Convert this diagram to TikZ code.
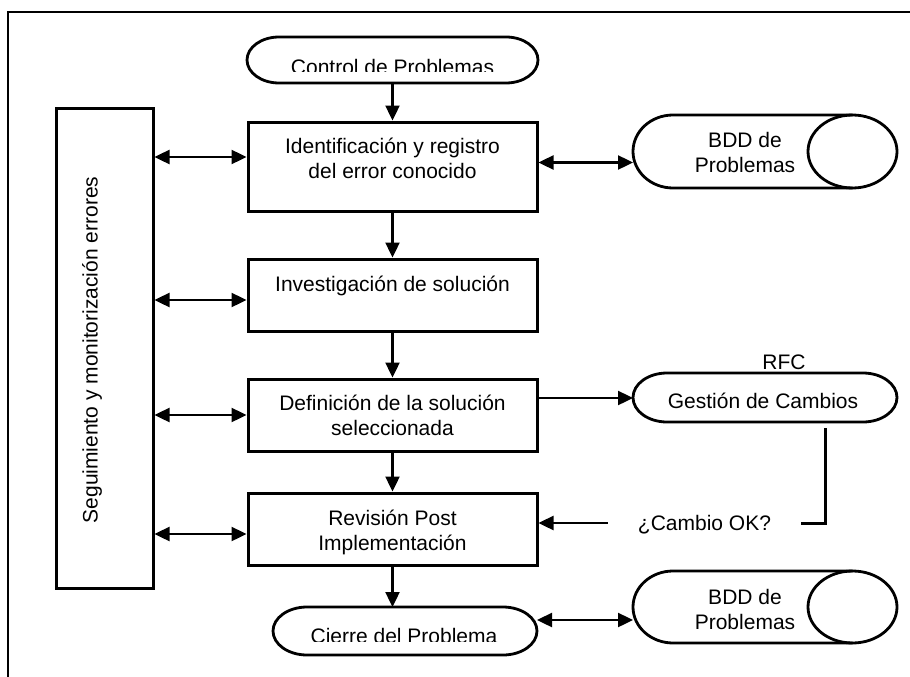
\documentclass[tikz,border=0pt]{standalone}
\usepackage{fontspec}
\setmainfont{Liberation Sans}
\usetikzlibrary{arrows.meta}

% two centred lines whose baseline is the baseline of the first line
\newcommand\twolines[2]{\vtop{\halign{\hfil##\hfil\cr#1\cr#2\cr}}}

% terminal outline with elliptical ends around a placeholder node
\newcommand\stadium[3]{%
  \draw[shapeline] ([xshift=#2]#1.north west) -- ([xshift=-#2]#1.north east)
    arc[start angle=90, end angle=-90, x radius=#2, y radius=#3]
    -- ([xshift=#2]#1.south west)
    arc[start angle=270, end angle=90, x radius=#2, y radius=#3] -- cycle;}

% stored-data outline (horizontal drum) around a placeholder node
\newcommand\drum[2]{%
  \draw[shapeline] ([xshift=-44.5pt]#1.north east) -- ([xshift=40pt]#1.north west)
    arc[start angle=90, end angle=270, x radius=40pt, y radius=#2]
    -- ([xshift=-44.5pt]#1.south east);
  \draw[shapeline] ([xshift=-44.5pt]#1.east) ellipse[x radius=44.5pt, y radius=#2];}

\begin{document}
\begin{tikzpicture}[x=1pt, y=-1pt,
  font=\fontsize{21}{25}\selectfont,
  box/.style={draw, line width=3pt, inner sep=0pt,
    minimum width=289pt, minimum height=72pt},
  slot/.style={inner sep=0pt, outer sep=0pt},
  shapeline/.style={line width=2.8pt},
  txt/.style={inner sep=0pt, anchor=base},
  tip/.tip={Triangle[length=15pt, width=14pt]},
  arr/.style={line width=2.4pt, -tip},
  darr/.style={line width=2.4pt, tip-tip},
  frame/.style={line width=2.4pt}]

\useasboundingbox (0,0) rectangle (910,677);

% outer frame
\draw[frame] (8,677) -- (8,12) -- (910,12);

% main column
\node[slot, minimum width=291pt, minimum height=46pt] (ctl) at (392.5,60) {};
\node[box, minimum height=89pt] (idf) at (392.5,166.5) {};
\node[box] (inv) at (392.5,295) {};
\node[box] (def) at (392.5,415) {};
\node[box] (rev) at (392.5,529) {};
\node[slot, minimum width=264pt, minimum height=48pt] (cie) at (405,631) {};

% side blocks
\node[box, minimum width=97pt, minimum height=480pt] (seg) at (104.5,348) {};
\node[slot, minimum width=264pt, minimum height=73pt] (bdda) at (765,151.5) {};
\node[slot, minimum width=264pt, minimum height=49pt] (gc) at (765,397.5) {};
\node[slot, minimum width=264pt, minimum height=72pt] (bddb) at (765,607) {};

\stadium{ctl}{32pt}{23pt}
\stadium{cie}{34pt}{24pt}
\stadium{gc}{34pt}{24.5pt}
\drum{bdda}{36.5pt}
\drum{bddb}{36pt}

% texts
\begin{scope}
  \clip (ctl.north west) rectangle (ctl.east |- 0,72);
  \node[txt] (ctlt) at (392.5,74.3) {Control de Problemas};
\end{scope}
\begin{scope}
  \clip (cie.north west) rectangle (cie.east |- 0,641);
  \node[txt] (ciet) at (404,643.3) {Cierre del Problema};
\end{scope}
\node[txt] (idft) at (392.5,153) {\twolines{Identificación y registro}{del error conocido}};
\node[txt] (invt) at (392.5,291) {Investigación de solución};
\node[txt] (deft) at (392.5,410) {\twolines{Definición de la solución}{seleccionada}};
\node[txt] (revt) at (392.5,525) {\twolines{Revisión Post}{Implementación}};
\node[txt] (gct) at (763,408) {Gestión de Cambios};
\node[txt] (rfc) at (784,369) {RFC};
\node[txt] (bddat) at (745,147) {\twolines{BDD de}{Problemas}};
\node[txt] (bddbt) at (745,604) {\twolines{BDD de}{Problemas}};
\node[txt, rotate=90] (segt) at (97.5,350) {Seguimiento y monitorización errores};

\node[fill=white, inner xsep=30pt, inner ysep=2pt, text height=15pt, text depth=0pt]
  (ok) at (704.5,523) {¿Cambio OK?};

% flow down the main column
\draw[arr] (ctl) -- (idf);
\draw[arr] (idf) -- (inv);
\draw[arr] (inv) -- (def);
\draw[arr] (def) -- (rev);
\draw[arr] (rev.south) -- (rev.south |- cie.north);

% links to the monitoring block
\foreach \n/\dy in {idf/9.5, inv/-5, def/0, rev/-5} {
  \coordinate (l-\n) at ([yshift=\dy pt]\n.west);
  \draw[darr] (l-\n -| seg.east) -- (l-\n);
}

% links to the right-hand blocks
\coordinate (r-idf) at ([yshift=4pt]idf.east);
\draw[darr] (r-idf) -- (r-idf -| bdda.west);
\coordinate (r-def) at ([yshift=17pt]def.east);
\draw[arr] (r-def) -- (r-def -| gc.west);
\coordinate (gc-out) at ([xshift=60pt, yshift=-6pt]gc.south);
\draw[line width=3pt] (gc-out) |- (ok.east);
\draw[arr] (ok.west) -- (ok.west -| rev.east);
\coordinate (r-cie) at ([yshift=11pt]cie.east);
\draw[darr] (r-cie) -- (r-cie -| bddb.west);

\end{tikzpicture}
\end{document}
